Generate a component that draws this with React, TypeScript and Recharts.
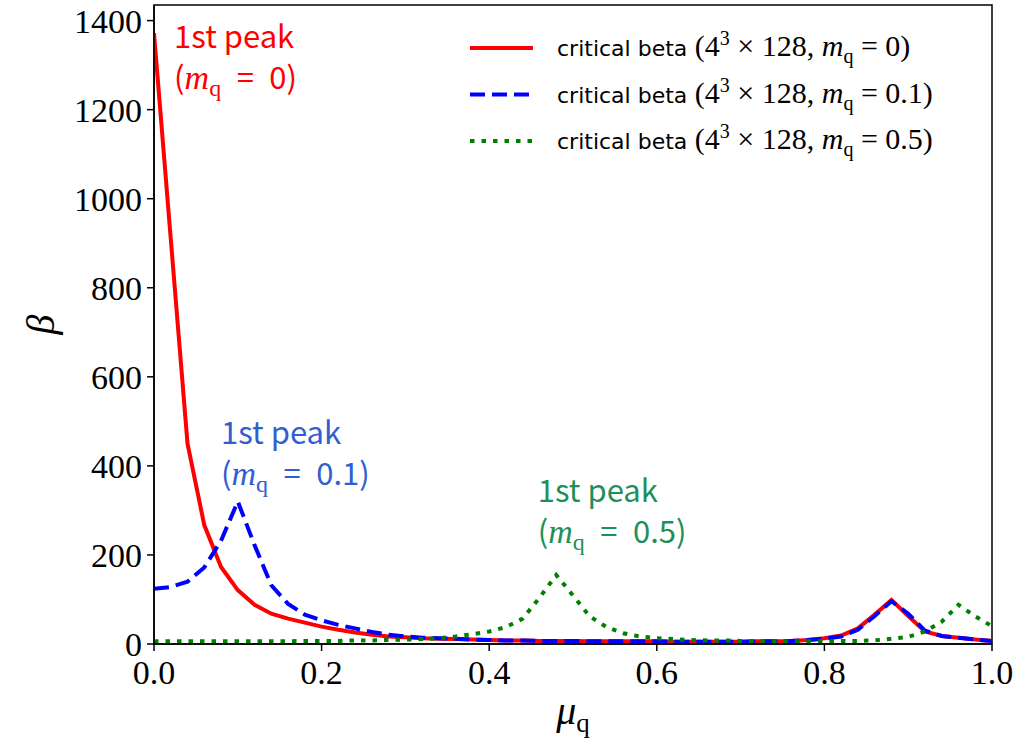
import { LineChart, Line, XAxis, YAxis, Legend, ReferenceArea, ReferenceDot, Label } from 'recharts';

// chemical potential grid (mu_q)
const muValues = [
  0.0, 0.02, 0.04, 0.06, 0.08, 0.1, 0.12, 0.14, 0.16, 0.18,
  0.2, 0.22, 0.24, 0.26, 0.28, 0.3, 0.32, 0.34, 0.36, 0.38,
  0.4, 0.42, 0.44, 0.46, 0.48, 0.5, 0.52, 0.54, 0.56, 0.58,
  0.6, 0.62, 0.64, 0.66, 0.68, 0.7, 0.72, 0.74, 0.76, 0.78,
  0.8, 0.82, 0.84, 0.86, 0.88, 0.9, 0.92, 0.94, 0.96, 0.98, 1.0,
];

// critical beta, m_q = 0
const betaMq0 = [
  1372, 910, 450, 267, 173, 121, 88, 68, 57, 48,
  39, 32, 26, 21, 17, 15, 13, 12, 11, 10,
  9, 8, 8, 7, 7, 7, 6, 6, 6, 6,
  6, 5, 5, 5, 5, 5, 6, 6, 7, 9,
  13, 19, 35, 66, 99, 63, 28, 18, 14, 10, 7,
];

// critical beta, m_q = 0.1
const betaMq01 = [
  124, 128, 140, 172, 232, 320, 222, 132, 90, 66,
  53, 43, 35, 27, 21, 17, 14, 13, 12, 10,
  9, 8, 8, 7, 7, 7, 6, 6, 6, 6,
  6, 5, 5, 5, 5, 5, 6, 6, 7, 9,
  12, 17, 32, 63, 96, 68, 30, 18, 14, 10, 7,
];

// critical beta, m_q = 0.5
const betaMq05 = [
  6, 6, 6, 6, 6, 6, 6, 6, 6, 7,
  7, 7, 8, 8, 9, 10, 11, 13, 17, 22,
  28, 38, 57, 104, 155, 109, 62, 38, 24, 17,
  13, 11, 9, 8, 8, 7, 7, 6, 6, 6,
  6, 7, 7, 8, 12, 16, 28, 50, 88, 62, 40,
];

const xTicks = [0, 0.2, 0.4, 0.6, 0.8, 1.0];
const yTicks = [0, 200, 400, 600, 800, 1000, 1200, 1400];
const mqLabels = ['0', '0.1', '0.5'];

const data = muValues.map((mu, i) => ({
  mu,
  mq0: betaMq0[i],
  mq01: betaMq01[i],
  mq05: betaMq05[i],
}));

const series = [
  { key: 'mq0', color: '#ff0000', dash: undefined as string | undefined, mq: mqLabels[0] },
  { key: 'mq01', color: '#0000ff', dash: '15 7', mq: mqLabels[1] },
  { key: 'mq05', color: '#008000', dash: '4.5 7', mq: mqLabels[2] },
];

const SERIF = '"Liberation Serif", "DejaVu Serif", serif';
const SANS = '"DejaVu Sans", sans-serif';
const JP = '"Noto Sans CJK JP", sans-serif';

const MathName = ({ mq }: { mq: string }) => (
  <tspan fontFamily={SERIF} fontSize={30}>
    {' (4'}
    <tspan dy={-11} fontSize={20}>3</tspan>
    <tspan dy={11}>{' \u00d7 128, '}</tspan>
    <tspan fontStyle="italic">m</tspan>
    <tspan dy={7} fontSize={20}>q</tspan>
    <tspan dy={-7}>{` = ${mq})`}</tspan>
  </tspan>
);

const LegendBox = ({ payload }: any) => (
  <svg width={560} height={150} style={{ display: 'block' }}>
    {(payload || []).map((entry: any, i: number) => {
      const s = series.find((d) => d.key === entry.dataKey) || series[i];
      const cy = 28 + i * 46.5;
      return (
        <g key={s.key}>
          <line x1={10} x2={73} y1={cy} y2={cy} stroke={s.color} strokeWidth={4} strokeDasharray={s.dash} />
          <text x={97} y={cy + 8} fontFamily={SANS} fontSize={22} fill="#000">
            {'critical beta'}
            <MathName mq={s.mq} />
          </text>
        </g>
      );
    })}
  </svg>
);

const PeakNote = ({ viewBox, color, mq }: any) => {
  const x = viewBox ? viewBox.x + viewBox.width / 2 : 0;
  const y = viewBox ? viewBox.y + viewBox.height / 2 : 0;
  return (
    <g>
      <text x={x} y={y} fontFamily={JP} fontSize={31} fill={color}>1st peak</text>
      <text x={x} y={y + 41} fontFamily={JP} fontSize={31} fill={color}>
        (
        <tspan fontFamily={SERIF} fontStyle="italic" fontSize={34}>m</tspan>
        <tspan dy={7} fontFamily={SERIF} fontSize={24}>q</tspan>
        <tspan dy={-7}>{`\u2002=\u2002${mq})`}</tspan>
      </text>
    </g>
  );
};

const notes = [
  { x: 0.024, y: 1339, color: '#ff0000', mq: mqLabels[0] },
  { x: 0.08, y: 449, color: '#2f5fd0', mq: mqLabels[1] },
  { x: 0.458, y: 318, color: '#1f8f5a', mq: mqLabels[2] },
];

export default function App() {
  return (
    <div style={{ position: 'absolute', left: 0, top: 0, background: '#fff' }}>
      <LineChart width={1028} height={739} data={data} margin={{ top: 5, right: 36, bottom: 0, left: 0 }}>
        <XAxis
          type="number"
          dataKey="mu"
          domain={[0, 1]}
          ticks={xTicks}
          tickFormatter={(v: number) => v.toFixed(1)}
          height={95}
          tickSize={7}
          tickMargin={9}
          axisLine={{ stroke: '#000', strokeWidth: 1.5 }}
          tickLine={{ stroke: '#000', strokeWidth: 1.5 }}
          tick={{ fill: '#000', fontSize: 34, fontFamily: SERIF }}
          allowDataOverflow
        >
          <Label
            content={({ viewBox }: any) => (
              <text x={viewBox.x + viewBox.width / 2} y={viewBox.y + 80} textAnchor="middle" fill="#000" fontFamily={SERIF}>
                <tspan fontStyle="italic" fontSize={40}>μ</tspan>
                <tspan dy={8} fontSize={27}>q</tspan>
              </text>
            )}
          />
        </XAxis>
        <YAxis
          type="number"
          domain={[0, 1435]}
          ticks={yTicks}
          width={154}
          tickSize={7}
          tickMargin={5}
          axisLine={{ stroke: '#000', strokeWidth: 1.5 }}
          tickLine={{ stroke: '#000', strokeWidth: 1.5 }}
          tick={{ fill: '#000', fontSize: 34, fontFamily: SERIF }}
          allowDataOverflow
        >
          <Label
            content={({ viewBox }: any) => {
              const cx = 40;
              const cy = viewBox.y + viewBox.height / 2;
              return (
                <text x={cx} y={cy} textAnchor="middle" dominantBaseline="central" fontStyle="italic" fontSize={40} fontFamily={SERIF} fill="#000" transform={`rotate(-90 ${cx} ${cy})`}>
                  β
                </text>
              );
            }}
          />
        </YAxis>
        {series.map((s) => (
          <Line
            key={s.key}
            type="linear"
            dataKey={s.key}
            stroke={s.color}
            strokeWidth={4}
            strokeDasharray={s.dash}
            dot={false}
            activeDot={false}
            isAnimationActive={false}
          />
        ))}
        <ReferenceArea x1={0} x2={1} y1={0} y2={1435} fill="none" stroke="#000" strokeWidth={1.5} ifOverflow="visible" />
        {notes.map((n) => (
          <ReferenceDot key={n.mq} x={n.x} y={n.y} r={0} fill="none" stroke="none" label={<PeakNote color={n.color} mq={n.mq} />} />
        ))}
        <Legend
          layout="vertical"
          verticalAlign="middle"
          align="center"
          content={<LegendBox />}
          wrapperStyle={{ left: 460, top: 20, width: 560 }}
        />
      </LineChart>
    </div>
  );
}
